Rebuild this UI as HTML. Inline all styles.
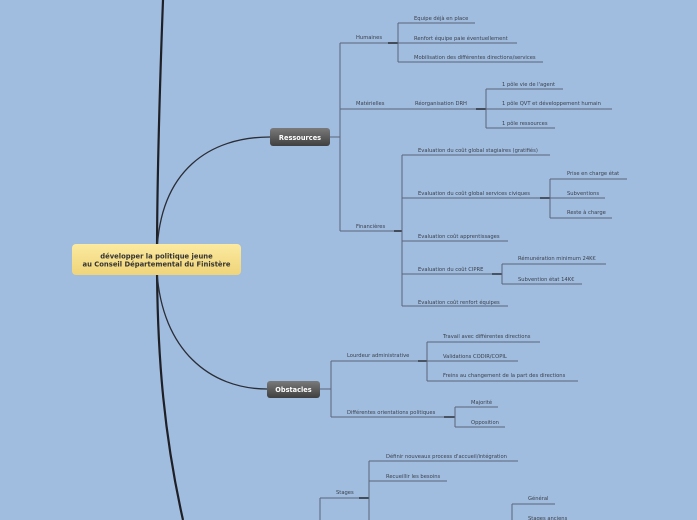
<!DOCTYPE html>
<html><head><meta charset="utf-8"><style>
html,body{margin:0;padding:0;background:#a0bde0;}
svg{display:block}
text{font-family:"DejaVu Sans","Liberation Sans",sans-serif;font-size:5.2px;fill:#3a3f48;}
.l{stroke:#5a6478;stroke-width:1;fill:none}
.d{stroke:#2c3038;stroke-width:1.6;fill:none}
</style></head><body>
<svg width="697" height="520" viewBox="0 0 697 520" xmlns="http://www.w3.org/2000/svg">
<defs>
<linearGradient id="y" x1="0" y1="0" x2="0" y2="1"><stop offset="0" stop-color="#fcea9f"/><stop offset="1" stop-color="#efd47a"/></linearGradient>
<linearGradient id="g" x1="0" y1="0" x2="0" y2="1"><stop offset="0" stop-color="#7a7a7a"/><stop offset="1" stop-color="#3f3f3f"/></linearGradient>
</defs>
<rect width="697" height="520" fill="#a0bde0"/>
<path d="M163,0 C160,80 157,180 157,260 C157,360 165,440 183,520" stroke="#1e2026" stroke-width="2.2" fill="none"/>
<path d="M157,252 C160,170 210,137 270,137" stroke="#2a2d34" stroke-width="1.3" fill="none"/>
<path d="M157,272 C162,350 210,389 267,389" stroke="#2a2d34" stroke-width="1.3" fill="none"/>
<rect x="72" y="244" width="169" height="31" rx="4" fill="url(#y)"/>
<text x="156.5" y="258.5" text-anchor="middle" style="font-size:6.8px;font-weight:bold;fill:#333">développer la politique jeune</text>
<text x="156.5" y="266.5" text-anchor="middle" style="font-size:6.8px;font-weight:bold;fill:#333">au Conseil Départemental du Finistère</text>
<rect x="270" y="128" width="60" height="18" rx="3" fill="url(#g)"/>
<text x="300" y="140" text-anchor="middle" style="font-size:6.6px;font-weight:bold;fill:#fff">Ressources</text>
<path class="l" d="M330,137H340M340,43V231"/>
<path class="l" d="M340,43H388M340,109H395M340,231H398"/>
<text x="356" y="39">Humaines</text>
<text x="356" y="105">Matérielles</text>
<text x="356" y="228">Financières</text>
<path class="d" d="M388,43H398"/>
<path class="l" d="M398,23V62M398,23H475M398,43H517M398,62H543"/>
<text x="414" y="20">Equipe déjà en place</text>
<text x="414" y="40">Renfort équipe paie éventuellement</text>
<text x="414" y="59">Mobilisation des différentes directions/services</text>
<path class="l" d="M395,109H476"/>
<text x="415" y="105">Réorganisation DRH</text>
<path class="d" d="M476,109H486"/>
<path class="l" d="M486,89V128M486,89H563M486,109H612M486,128H555"/>
<text x="502" y="86">1 pôle vie de l'agent</text>
<text x="502" y="105">1 pôle QVT et développement humain</text>
<text x="502" y="125">1 pôle ressources</text>
<path class="d" d="M394,231H402"/>
<path class="l" d="M402,155V306M402,155H550M402,198H540M402,241H508M402,274H492M402,306H508"/>
<text x="418" y="152">Evaluation du coût global stagiaires (gratifiés)</text>
<text x="418" y="195">Evaluation du coût global services civiques</text>
<text x="418" y="238">Evaluation coût apprentissages</text>
<text x="418" y="271">Evaluation du coût CIPRE</text>
<text x="418" y="304">Evaluation coût renfort équipes</text>
<path class="d" d="M540,198H550M492,274H502"/>
<path class="l" d="M550,179V218M550,179H627M550,198H605M550,218H612"/>
<text x="567" y="175">Prise en charge état</text>
<text x="567" y="195">Subventions</text>
<text x="567" y="214">Reste à charge</text>
<path class="l" d="M502,264V284M502,264H606M502,284H582"/>
<text x="518" y="260">Rémunération minimum 24K€</text>
<text x="518" y="281">Subvention état 14K€</text>
<rect x="267" y="381" width="53" height="17" rx="3" fill="url(#g)"/>
<text x="293.5" y="392" text-anchor="middle" style="font-size:6.6px;font-weight:bold;fill:#fff">Obstacles</text>
<path class="l" d="M320,389H331M331,361V417M331,361H418M331,417H444"/>
<text x="347" y="357">Lourdeur administrative</text>
<text x="347" y="414">Différentes orientations politiques</text>
<path class="d" d="M418,361H427M444,417H455"/>
<path class="l" d="M427,342V381M427,342H540M427,361H518M427,381H578"/>
<text x="443" y="338">Travail avec différentes directions</text>
<text x="443" y="358">Validations CODIR/COPIL</text>
<text x="443" y="377">Freins au changement de la part des directions</text>
<path class="l" d="M455,407V427M455,407H498M455,427H505"/>
<text x="471" y="404">Majorité</text>
<text x="471" y="424">Opposition</text>
<path class="l" d="M320,498V520M320,498H360"/>
<text x="336" y="494">Stages</text>
<path class="d" d="M359,498H369"/>
<path class="l" d="M369,461V520M369,461H518M369,481H447"/>
<text x="386" y="458">Définir nouveaux process d'accueil/intégration</text>
<text x="386" y="478">Recueillir les besoins</text>
<path class="l" d="M512,504V520M512,504H555"/>
<text x="528" y="500">Général</text>
<text x="528" y="520">Stages anciens</text>
</svg>
</body></html>
